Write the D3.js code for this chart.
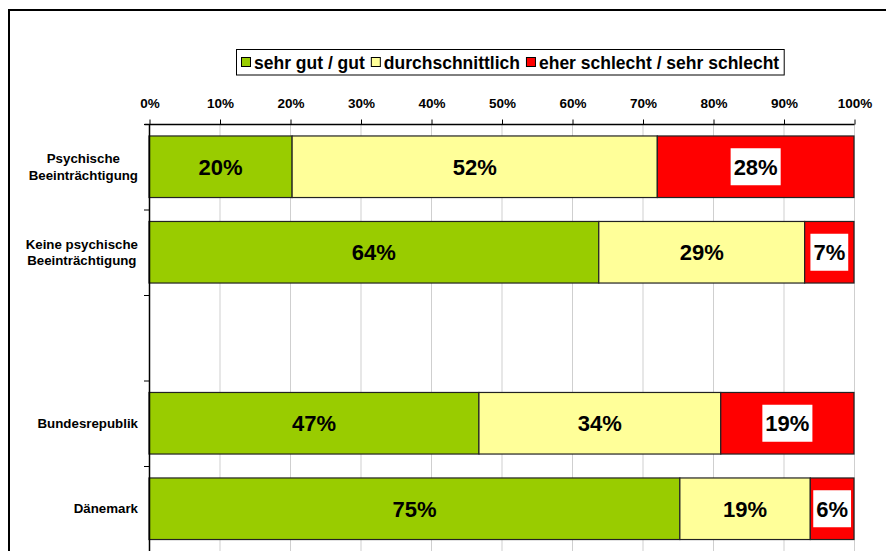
<!DOCTYPE html>
<html>
<head>
<meta charset="utf-8">
<script src="https://cdn.jsdelivr.net/npm/d3@7"></script>
<style>
  html, body { margin: 0; padding: 0; background: #fff; }
  svg { display: block; font-family: "Liberation Sans", Arial, sans-serif; }
</style>
</head>
<body>
<svg id="chart" width="886" height="551"></svg>
<script>
// ---- data ----
const categories = ["Psychische\nBeeinträchtigung", "Keine psychische\nBeeinträchtigung", "", "Bundesrepublik", "Dänemark"];
const seriesNames = ["sehr gut / gut", "durchschnittlich", "eher schlecht / sehr schlecht"];
const seriesColors = ["#99cc00", "#ffff99", "#ff0000"];
const good    = [20.3, 63.8, null, 46.8, 75.3];
const average = [51.8, 29.2, null, 34.3, 18.5];
const bad     = [27.9,  7.0, null, 18.9,  6.2];
const tickValues = [0, 10, 20, 30, 40, 50, 60, 70, 80, 90, 100];

(function () {
// ---- layout ----
const svg = d3.select("#chart");
const W = 886, H = 551;
const pLeft = 149, pRight = 854, pTop = 124, pBottom = 551.5;

// outer frame
svg.append("rect").attr("x", 9).attr("y", 10).attr("width", 900).attr("height", 600)
  .attr("fill", "#fff").attr("stroke", "#000").attr("stroke-width", 2);

const keys = categories.map((c, i) => "c" + i);
const rows = categories.map((c, i) => ({ key: keys[i], label: c, s0: good[i], s1: average[i], s2: bad[i] }));

const x = d3.scaleLinear().domain([0, 100]).range([pLeft, pRight]);
const y = d3.scaleBand().domain(keys).range([pTop, pBottom]).paddingInner(0.28).paddingOuter(0.14);

// gridlines
svg.append("g").selectAll("line").data(tickValues.slice(1)).join("line")
  .attr("x1", d => x(d) + 0.5).attr("x2", d => x(d) + 0.5)
  .attr("y1", pTop).attr("y2", H)
  .attr("stroke", "#cfcfcf").attr("stroke-width", 1);

// bars
const stack = d3.stack().keys(["s0", "s1", "s2"]).value((d, k) => d[k] == null ? 0 : d[k]);
const stacked = stack(rows);

const barG = svg.append("g");
stacked.forEach((layer, li) => {
  barG.append("g").selectAll("rect")
    .data(layer.filter(d => d.data["s" + li] != null))
    .join("rect")
    .attr("x", d => x(d[0]))
    .attr("y", d => y(d.data.key))
    .attr("width", d => x(d[1]) - x(d[0]))
    .attr("height", y.bandwidth())
    .attr("fill", seriesColors[li])
    .attr("stroke", "#222").attr("stroke-width", 1.2);
});

// value labels
stacked.forEach((layer, li) => {
  const g = svg.append("g");
  layer.filter(d => d.data["s" + li] != null).forEach(d => {
    const cx = (x(d[0]) + x(d[1])) / 2;
    const cy = y(d.data.key) + y.bandwidth() / 2;
    const lab = g.append("g");
    const t = lab.append("text")
      .attr("x", cx).attr("y", cy + 8)
      .attr("text-anchor", "middle")
      .attr("font-size", 22).attr("font-weight", "bold").attr("fill", "#000")
      .text(Math.round(d.data["s" + li]) + "%");
    if (li === 2) {
      const w = t.node().getComputedTextLength();
      lab.insert("rect", "text")
        .attr("x", cx - w / 2 - 3).attr("y", cy - 18.5)
        .attr("width", w + 6).attr("height", 37)
        .attr("fill", "#fff");
    }
  });
});

// top axis
const xAxis = d3.axisTop(x).tickValues(tickValues).tickFormat(d => d + "%").tickSize(5).tickPadding(12);
const ax = svg.append("g").attr("transform", `translate(0.5,${pTop + 0.5})`).call(xAxis);
ax.select(".domain").attr("stroke", "#000").attr("stroke-width", 1.5).attr("d", `M${pLeft - 5},0H${pRight}`);
ax.selectAll(".tick line").attr("stroke", "#000");
ax.selectAll(".tick text").attr("font-size", 13.5).attr("font-weight", "bold")
  .attr("font-family", "'Liberation Sans', Arial, sans-serif").attr("fill", "#000");

// left axis line and band-boundary ticks
svg.append("line").attr("x1", pLeft + 0.5).attr("x2", pLeft + 0.5).attr("y1", pTop).attr("y2", H)
  .attr("stroke", "#000").attr("stroke-width", 1.5);
const boundaries = keys.map(k => y(k) - y.step() * y.paddingInner() / 2);
svg.append("g").selectAll("line").data(boundaries).join("line")
  .attr("x1", pLeft - 5).attr("x2", pLeft).attr("y1", d => d + 0.5).attr("y2", d => d + 0.5)
  .attr("stroke", "#000").attr("stroke-width", 1);

// category labels
const catG = svg.append("g");
rows.forEach(r => {
  const lines = r.label ? r.label.split("\n") : [];
  if (!lines.length) return;
  const cy = y(r.key) + y.bandwidth() / 2;
  const lh = 16.5;
  const g = catG.append("g");
  const texts = lines.map((ln, i) => g.append("text")
    .attr("y", cy + 4.5 + (i - (lines.length - 1) / 2) * lh)
    .attr("text-anchor", "middle")
    .attr("font-size", 13.3).attr("font-weight", "bold").attr("fill", "#000")
    .text(ln));
  const maxW = d3.max(texts, t => t.node().getComputedTextLength());
  texts.forEach(t => t.attr("x", 138 - maxW / 2));
});

// legend
const lg = svg.append("g");
const lgBox = lg.append("rect").attr("y", 49.5).attr("height", 25.5).attr("fill", "#fff")
  .attr("stroke", "#000").attr("stroke-width", 1);
let lx = 241;
seriesNames.forEach((name, i) => {
  lg.append("rect").attr("x", lx + 0.5).attr("y", 57.5).attr("width", 9).attr("height", 9)
    .attr("fill", seriesColors[i]).attr("stroke", "#000").attr("stroke-width", 1);
  const t = lg.append("text").attr("x", lx + 13).attr("y", 68.5)
    .attr("font-size", 17.5).attr("font-weight", "bold").attr("fill", "#000").text(name);
  lx += 13 + t.node().getComputedTextLength() + 6;
});
lgBox.attr("x", 236.5).attr("width", lx - 236.5 - 1);
})();
</script>
</body>
</html>
